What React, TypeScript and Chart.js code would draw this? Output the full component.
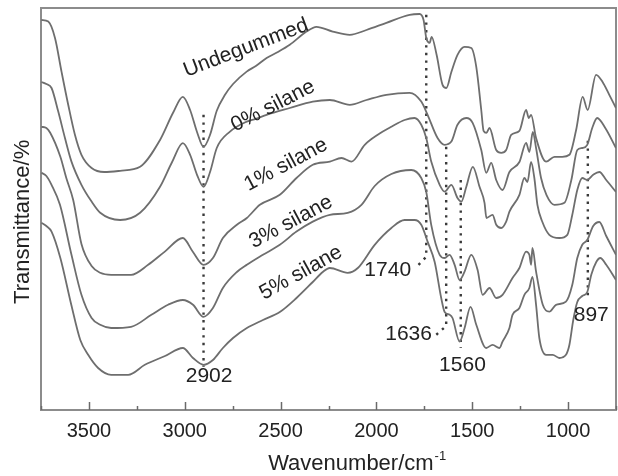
import React, { useEffect, useRef } from "react";
import { Chart, registerables } from "chart.js";

Chart.register(...registerables);

const FONT = '"Liberation Sans", Arial, Helvetica, sans-serif';

// ---- Spectra (wavenumber cm-1, transmittance in arbitrary %) ----
const undegummedWn = [3748, 3712, 3677, 3643, 3608, 3573, 3539, 3486, 3420, 3337, 3233, 3129, 3061, 3010, 2972, 2936, 2902, 2868, 2833, 2790, 2748, 2677, 2629, 2573, 2514, 2452, 2365, 2313, 2228, 2139, 2052, 1948, 1827, 1775, 1754, 1740, 1722, 1712, 1686, 1655, 1635, 1609, 1577, 1540, 1505, 1479, 1453, 1441, 1426, 1410, 1375, 1349, 1323, 1297, 1254, 1219, 1205, 1193, 1167, 1115, 1071, 1030, 993, 958, 924, 898, 854, 820, 785, 750];
const undegummedT = [97.5, 97.1, 93, 84.6, 76.3, 68.8, 63.8, 60.5, 59.5, 59.8, 60.8, 67.5, 74.3, 78.3, 75, 69.5, 65.8, 68.8, 74.8, 78.8, 81.5, 84.6, 86, 88, 89.5, 91.3, 94.6, 95.8, 94.6, 93.8, 95, 96.8, 98.8, 99, 97.5, 93, 91.8, 93.3, 88.8, 81.3, 80.5, 84.5, 88.8, 90.8, 90.5, 85.8, 75, 69.8, 69.3, 70.5, 65, 64.3, 65, 68.8, 69.8, 75, 73, 73.8, 68, 62.1, 63.3, 63.3, 63.8, 70, 78.3, 75, 83.8, 82, 78.8, 75.5];

const silane0Wn = [3748, 3722, 3695, 3660, 3625, 3591, 3539, 3486, 3441, 3337, 3233, 3129, 3066, 3010, 2972, 2936, 2902, 2868, 2833, 2764, 2677, 2629, 2573, 2452, 2332, 2243, 2139, 2052, 1948, 1827, 1766, 1733, 1681, 1644, 1609, 1577, 1531, 1498, 1453, 1427, 1401, 1375, 1342, 1306, 1254, 1219, 1202, 1184, 1167, 1141, 1113, 1071, 1019, 983, 952, 926, 900, 874, 848, 806, 750];
const silane0T = [82, 81.5, 80.5, 74.6, 68, 62.1, 56.3, 52.1, 49.3, 47.5, 49.3, 55.8, 62, 66.7, 63.8, 58.8, 55.8, 59.5, 65.5, 69.6, 72.1, 72.8, 73.8, 75.5, 77.1, 77.5, 76.3, 77.5, 78.8, 79.3, 77.1, 73.8, 68, 66.3, 67.1, 71.3, 73, 71.8, 65, 59.3, 61.8, 57.5, 55, 59.5, 62, 66.8, 64.5, 69.5, 65.5, 58, 53.8, 51.3, 51.8, 57.5, 65, 65.5, 66.3, 70.5, 73, 70.5, 65.5];

const silane1Wn = [3748, 3722, 3702, 3649, 3618, 3582, 3539, 3486, 3441, 3384, 3280, 3191, 3104, 3010, 2957, 2902, 2853, 2801, 2728, 2676, 2608, 2504, 2417, 2332, 2243, 2182, 2130, 2061, 1993, 1922, 1853, 1801, 1766, 1740, 1714, 1670, 1644, 1609, 1577, 1557, 1531, 1497, 1462, 1436, 1426, 1394, 1375, 1349, 1323, 1306, 1254, 1228, 1212, 1193, 1176, 1160, 1134, 1098, 1046, 1004, 978, 952, 926, 900, 869, 837, 801, 750];
const silane1T = [70.8, 70.5, 69.3, 63.3, 58, 52.5, 41.5, 36, 34.3, 33.8, 33.8, 36.3, 39.6, 43, 39.5, 36.3, 38, 43, 46.3, 48, 51.3, 53.8, 58, 61.3, 62.1, 63, 62.1, 66.3, 68.8, 70.8, 72.5, 73, 71.3, 68, 62.1, 56.3, 54.6, 56.3, 53, 52.1, 55.8, 60.8, 55.8, 51.8, 48, 48.8, 46.3, 45.5, 47.1, 49.6, 53.8, 58, 57, 62, 58, 51.3, 47, 43.8, 43, 43.8, 48.8, 55, 58, 57.5, 58.8, 59.5, 57.5, 54.5];

const silane3Wn = [3748, 3722, 3695, 3651, 3591, 3539, 3486, 3441, 3384, 3280, 3174, 3087, 3010, 2957, 2902, 2853, 2801, 2728, 2676, 2592, 2504, 2417, 2332, 2243, 2150, 2078, 2009, 1922, 1818, 1766, 1740, 1714, 1670, 1644, 1618, 1592, 1566, 1540, 1505, 1472, 1446, 1410, 1375, 1342, 1290, 1254, 1219, 1202, 1193, 1186, 1167, 1132, 1098, 1063, 1011, 978, 952, 926, 900, 869, 837, 801, 750];
const silane3T = [59.3, 58.5, 56.3, 51.3, 38.8, 28.8, 23, 21.3, 20.5, 20.8, 23.8, 26.3, 27.5, 26.3, 23.3, 25.5, 30.5, 34.5, 36.3, 38.8, 41.3, 44.6, 47.1, 48.8, 49.3, 51.3, 56, 59, 60, 58, 54.5, 46.3, 38.8, 38, 38.8, 36.3, 32.5, 34.6, 38.8, 35, 28.8, 30.5, 28, 28.8, 33, 35.5, 39.6, 38.8, 36.3, 40.5, 34.6, 26.3, 24.6, 26.3, 27.1, 31.3, 38, 41.3, 42.5, 46, 47, 43.5, 38.8];

const silane5Wn = [3748, 3722, 3695, 3649, 3592, 3545, 3504, 3452, 3384, 3295, 3208, 3103, 3010, 2957, 2902, 2853, 2801, 2748, 2676, 2592, 2504, 2417, 2332, 2280, 2243, 2150, 2097, 2009, 1922, 1853, 1801, 1766, 1733, 1696, 1662, 1644, 1618, 1603, 1566, 1540, 1509, 1479, 1427, 1394, 1358, 1342, 1306, 1290, 1254, 1228, 1202, 1186, 1167, 1150, 1115, 1080, 1046, 1011, 993, 973, 952, 926, 900, 879, 853, 832, 801, 750];
const silane5T = [46.8, 46, 44.6, 38, 26.3, 17.5, 13.8, 10.5, 8.8, 8.8, 11.3, 13.5, 15.5, 13, 11.3, 12.5, 15.5, 18, 20.5, 22.5, 24.5, 28, 32, 34.5, 35.5, 34.3, 35.5, 41.3, 45.5, 47.5, 47.5, 46.3, 42.1, 37, 28, 24.5, 23.8, 23, 17.1, 20.5, 25.8, 21.3, 15.5, 16.3, 15.5, 17.1, 20.5, 23.8, 25.5, 28.8, 30.5, 33.3, 26.3, 18, 13.8, 13.8, 13, 13.8, 16.3, 22.5, 27, 28.5, 29.5, 33.8, 37, 38, 36.3, 32.5];

// ---- Marker (dotted) lines ----
const marker2902Wn = [2902, 2902];
const marker2902T = [73.8, 10.8];
const marker1740Wn = [1740, 1740, 1790];
const marker1740T = [98.8, 38.3, 35.8];
const marker1636Wn = [1636, 1636, 1695];
const marker1636T = [65.8, 21, 18.5];
const marker1560Wn = [1560, 1560];
const marker1560T = [57.5, 15.5];
const marker897Wn = [897, 897];
const marker897T = [67.3, 28.3];

// ---- Text annotations ----
const curveLabels = ["Undegummed", "0% silane", "1% silane", "3% silane", "5% silane"];
const curveLabelWn = [2681, 2540, 2472, 2446, 2394];
const curveLabelT = [90.5, 76, 61.3, 47, 34.3];
const curveLabelAngle = [-21, -27, -28, -28, -29];

const peakLabels = ["2902", "1740", "1636", "1560", "897"];
const peakLabelWn = [2873, 1941, 1832, 1551, 879];
const peakLabelT = [8.5, 35, 19, 11.3, 23.8];

// ---- Axis ----
const xMajorTicks = [3500, 3000, 2500, 2000, 1500, 1000];
const xMinorTicks = [3750, 3250, 2750, 2250, 1750, 1250, 750];
const xMin = 750;
const xMax = 3750;
const yMin = 0;
const yMax = 100.5;

const zip = (xs: number[], ys: number[]) => xs.map((x, i) => ({ x, y: ys[i] }));

const CURVE_COLOR = "#6e6e6e";
const DOT_COLOR = "#3a3a3a";

const curveDs = (label: string, xs: number[], ys: number[]) => ({
  label,
  data: zip(xs, ys),
  borderColor: CURVE_COLOR,
  borderWidth: 1.8,
  pointRadius: 0,
  fill: false,
  cubicInterpolationMode: "monotone" as const,
});

const dotDs = (label: string, xs: number[], ys: number[]) => ({
  label,
  data: zip(xs, ys),
  borderColor: DOT_COLOR,
  borderWidth: 2.4,
  borderDash: [2.4, 5.2],
  borderCapStyle: "butt" as const,
  pointRadius: 0,
  fill: false,
  tension: 0,
});

const decorPlugin = {
  id: "decor",
  beforeDatasetsDraw(chart: any) {
    const { ctx, chartArea: a } = chart;
    ctx.save();
    ctx.strokeStyle = "#8c8c8c";
    ctx.lineWidth = 2;
    ctx.strokeRect(a.left, a.top, a.right - a.left, a.bottom - a.top);
    const x = chart.scales.x;
    ctx.strokeStyle = "#6a6a6a";
    ctx.lineWidth = 1.5;
    xMajorTicks.forEach((v) => {
      const px = Math.round(x.getPixelForValue(v)) + 0.5;
      ctx.beginPath();
      ctx.moveTo(px, a.bottom);
      ctx.lineTo(px, a.bottom - 8);
      ctx.stroke();
    });
    xMinorTicks.forEach((v) => {
      const px = Math.round(x.getPixelForValue(v)) + 0.5;
      ctx.beginPath();
      ctx.moveTo(px, a.bottom);
      ctx.lineTo(px, a.bottom - 4);
      ctx.stroke();
    });
    ctx.restore();
  },
  afterDraw(chart: any) {
    const { ctx, chartArea: a } = chart;
    const x = chart.scales.x;
    const y = chart.scales.y;
    ctx.save();
    ctx.fillStyle = "#222";
    ctx.textAlign = "center";
    ctx.textBaseline = "middle";
    ctx.font = `21px ${FONT}`;
    curveLabels.forEach((t, i) => {
      ctx.save();
      ctx.translate(x.getPixelForValue(curveLabelWn[i]), y.getPixelForValue(curveLabelT[i]));
      ctx.rotate((curveLabelAngle[i] * Math.PI) / 180);
      ctx.fillText(t, 0, 0);
      ctx.restore();
    });
    peakLabels.forEach((t, i) => {
      ctx.fillText(t, x.getPixelForValue(peakLabelWn[i]), y.getPixelForValue(peakLabelT[i]));
    });

    // x-axis title with superscript
    const main = "Wavenumber/cm";
    const sup = "-1";
    ctx.font = `22px ${FONT}`;
    const wMain = ctx.measureText(main).width;
    ctx.font = `13px ${FONT}`;
    const wSup = ctx.measureText(sup).width;
    const cx = a.left + (a.right - a.left) * 0.549;
    const startX = cx - (wMain + wSup) / 2;
    ctx.textAlign = "left";
    ctx.textBaseline = "alphabetic";
    ctx.font = `22px ${FONT}`;
    ctx.fillText(main, startX, a.bottom + 60);
    ctx.font = `13px ${FONT}`;
    ctx.fillText(sup, startX + wMain + 1, a.bottom + 50);

    // y-axis title
    ctx.save();
    ctx.font = `22px ${FONT}`;
    ctx.textAlign = "center";
    ctx.textBaseline = "middle";
    ctx.translate(a.left - 18, a.top + (a.bottom - a.top) * 0.532);
    ctx.rotate(-Math.PI / 2);
    ctx.fillText("Transmittance/%", 0, 0);
    ctx.restore();
    ctx.restore();
  },
};

export default function App() {
  const ref = useRef<HTMLCanvasElement>(null);
  useEffect(() => {
    if (!ref.current) return;
    const chart = new Chart(ref.current, {
      type: "line",
      data: {
        datasets: [
          curveDs("Undegummed", undegummedWn, undegummedT),
          curveDs("0% silane", silane0Wn, silane0T),
          curveDs("1% silane", silane1Wn, silane1T),
          curveDs("3% silane", silane3Wn, silane3T),
          curveDs("5% silane", silane5Wn, silane5T),
          dotDs("2902", marker2902Wn, marker2902T),
          dotDs("1740", marker1740Wn, marker1740T),
          dotDs("1636", marker1636Wn, marker1636T),
          dotDs("1560", marker1560Wn, marker1560T),
          dotDs("897", marker897Wn, marker897T),
        ] as any,
      },
      options: {
        responsive: false,
        animation: false,
        devicePixelRatio: 1,
        layout: { padding: { left: 41, right: 2, top: 8, bottom: 0 } },
        plugins: { legend: { display: false }, tooltip: { enabled: false } },
        scales: {
          x: {
            type: "linear",
            reverse: true,
            min: xMin,
            max: xMax,
            grid: { display: false, drawTicks: false },
            border: { display: false },
            ticks: {
              font: { family: FONT, size: 20 },
              color: "#222",
              padding: 9,
              maxRotation: 0,
              autoSkip: false,
              callback: (v: any) => String(v),
            },
            afterBuildTicks: (s: any) => {
              s.ticks = xMajorTicks.map((v) => ({ value: v }));
            },
            afterFit: (s: any) => {
              s.height = 66;
            },
          },
          y: {
            type: "linear",
            display: false,
            min: yMin,
            max: yMax,
          },
        },
      },
      plugins: [decorPlugin],
    });
    return () => chart.destroy();
  }, []);
  return (
    <div style={{ position: "fixed", left: 0, top: 0, width: 618, height: 476, background: "#fff" }}>
      <canvas ref={ref} width={618} height={476} style={{ display: "block" }} />
    </div>
  );
}
